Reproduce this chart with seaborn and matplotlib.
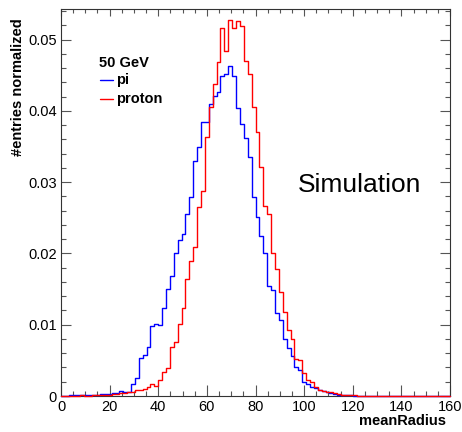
import numpy as np
import pandas as pd
import matplotlib
matplotlib.use("Agg")
import matplotlib.pyplot as plt
import seaborn as sns
from matplotlib.ticker import MultipleLocator, FuncFormatter

# Histogram binning: 100 bins over 0..160
x_min, x_max, n_bins = 0.0, 160.0, 100

# Normalized bin contents, bin 0 .. bin 99
pi_values = [
    0.0000, 0.0000, 0.0001, 0.0002, 0.0001, 0.0001, 0.0001, 0.0001, 0.0002, 0.0002,
    0.0003, 0.0003, 0.0003, 0.0004, 0.0004, 0.0007, 0.0005, 0.0006, 0.0017, 0.0025,
    0.0054, 0.0058, 0.0069, 0.0098, 0.0101, 0.0100, 0.0123, 0.0150, 0.0169, 0.0200,
    0.0219, 0.0228, 0.0256, 0.0279, 0.0330, 0.0349, 0.0385, 0.0385, 0.0410, 0.0421,
    0.0427, 0.0449, 0.0452, 0.0463, 0.0449, 0.0404, 0.0381, 0.0362, 0.0336, 0.0279,
    0.0251, 0.0224, 0.0200, 0.0154, 0.0149, 0.0116, 0.0106, 0.0080, 0.0068, 0.0056,
    0.0041, 0.0036, 0.0020, 0.0017, 0.0013, 0.0011, 0.0008, 0.0007, 0.0005, 0.0004,
    0.0003, 0.0002, 0.0002, 0.0001, 0.0001, 0.0000, 0.0000, 0.0000, 0.0000, 0.0000,
    0.0000, 0.0000, 0.0000, 0.0000, 0.0000, 0.0000, 0.0000, 0.0000, 0.0000, 0.0000,
    0.0000, 0.0000, 0.0000, 0.0000, 0.0000, 0.0000, 0.0000, 0.0000, 0.0000, 0.0000,
]
proton_values = [
    0.0000, 0.0000, 0.0000, 0.0000, 0.0000, 0.0001, 0.0000, 0.0000, 0.0001, 0.0001,
    0.0001, 0.0002, 0.0002, 0.0003, 0.0003, 0.0004, 0.0004, 0.0005, 0.0006, 0.0008,
    0.0009, 0.0010, 0.0012, 0.0017, 0.0014, 0.0023, 0.0033, 0.0039, 0.0069, 0.0076,
    0.0101, 0.0124, 0.0164, 0.0189, 0.0209, 0.0265, 0.0288, 0.0363, 0.0405, 0.0438,
    0.0468, 0.0516, 0.0484, 0.0527, 0.0517, 0.0526, 0.0519, 0.0470, 0.0452, 0.0405,
    0.0371, 0.0321, 0.0267, 0.0256, 0.0201, 0.0178, 0.0146, 0.0118, 0.0092, 0.0080,
    0.0052, 0.0050, 0.0032, 0.0022, 0.0019, 0.0013, 0.0009, 0.0007, 0.0006, 0.0005,
    0.0004, 0.0003, 0.0002, 0.0002, 0.0001, 0.0001, 0.0000, 0.0000, 0.0000, 0.0000,
    0.0000, 0.0000, 0.0000, 0.0000, 0.0000, 0.0000, 0.0000, 0.0000, 0.0000, 0.0000,
    0.0000, 0.0000, 0.0000, 0.0000, 0.0000, 0.0000, 0.0000, 0.0000, 0.0000, 0.0000,
]
y_max = 0.0543

edges = np.linspace(x_min, x_max, n_bins + 1)
centers = 0.5 * (edges[:-1] + edges[1:])
pi_df = pd.DataFrame({"meanRadius": centers, "w": pi_values})
proton_df = pd.DataFrame({"meanRadius": centers, "w": proton_values})

sns.set_theme(style="ticks")
plt.rcParams["font.family"] = ["Liberation Sans", "DejaVu Sans"]
plt.rcParams["text.color"] = "black"

W, H = 462, 432
PT = 0.72  # points per pixel at 100 dpi
fig = plt.figure(figsize=(W / 100, H / 100), dpi=100)
ax_l, ax_r, ax_t, ax_b = 61, 450, 9, 396
ax = fig.add_axes([ax_l / W, 1 - ax_b / H, (ax_r - ax_l) / W, (ax_b - ax_t) / H])

blue, red = "#0000ff", "#ff0000"
hist_kw = dict(x="meanRadius", weights="w", bins=n_bins, binrange=(x_min, x_max),
               element="step", fill=False, linewidth=1.0, ax=ax,
               zorder=3, clip_on=False)
sns.histplot(data=pi_df, color=blue, **hist_kw)
sns.histplot(data=proton_df, color=red, **hist_kw)

ax.set_xlim(x_min, x_max)
ax.set_ylim(0, y_max)
ax.set_xlabel("")
ax.set_ylabel("")

for s in ax.spines.values():
    s.set_color("#333333")
    s.set_linewidth(0.8)

ax.xaxis.set_major_locator(MultipleLocator(20))
ax.xaxis.set_minor_locator(MultipleLocator(5))
ax.yaxis.set_major_locator(MultipleLocator(0.01))
ax.yaxis.set_minor_locator(MultipleLocator(0.002))
ax.yaxis.set_major_formatter(FuncFormatter(lambda v, p: f"{v:g}"))
ax.xaxis.set_major_formatter(FuncFormatter(lambda v, p: f"{v:g}"))
ax.tick_params(which="both", direction="in", top=True, right=True,
               color="#555555", width=0.8, labelsize=10.5, labelcolor="black")
ax.tick_params(which="major", pad=3)

# tick lengths per side (pixels)
fig.canvas.draw()
for t in ax.xaxis.get_major_ticks():
    t.tick1line.set_markersize(11 * PT)
    t.tick2line.set_markersize(7 * PT)
for t in ax.xaxis.get_minor_ticks():
    t.tick1line.set_markersize(5.5 * PT)
    t.tick2line.set_markersize(4 * PT)
for t in ax.yaxis.get_major_ticks():
    t.tick1line.set_markersize(10 * PT)
    t.tick2line.set_markersize(10 * PT)
for t in ax.yaxis.get_minor_ticks():
    t.tick1line.set_markersize(5 * PT)
    t.tick2line.set_markersize(5 * PT)

fig.text(446 / W, 1 - 421 / H, "meanRadius", ha="right", va="center",
         fontsize=10.5, fontweight="bold")
fig.text(11 / W, 1 - 18 / H, "#entries normalized", ha="left", va="top",
         rotation=90, fontsize=10.5, fontweight="bold")

# legend block
fig.text(99 / W, 1 - 63 / H, "50 GeV", ha="left", va="center",
         fontsize=10.5, fontweight="bold")
leg = [("pi", blue, 80), ("proton", red, 99)]
for name, col, yy in leg:
    ax.plot([(100 - ax_l) / (ax_r - ax_l), (113 - ax_l) / (ax_r - ax_l)],
            [(ax_b - yy) / (ax_b - ax_t)] * 2, transform=ax.transAxes,
            color=col, lw=1.0)
    fig.text(116 / W, 1 - yy / H, name, ha="left", va="center",
             fontsize=10.5, fontweight="bold")

fig.text(298 / W, 1 - 185 / H, "Simulation", ha="left", va="center", fontsize=19)

fig.savefig("out.png", dpi=100)
